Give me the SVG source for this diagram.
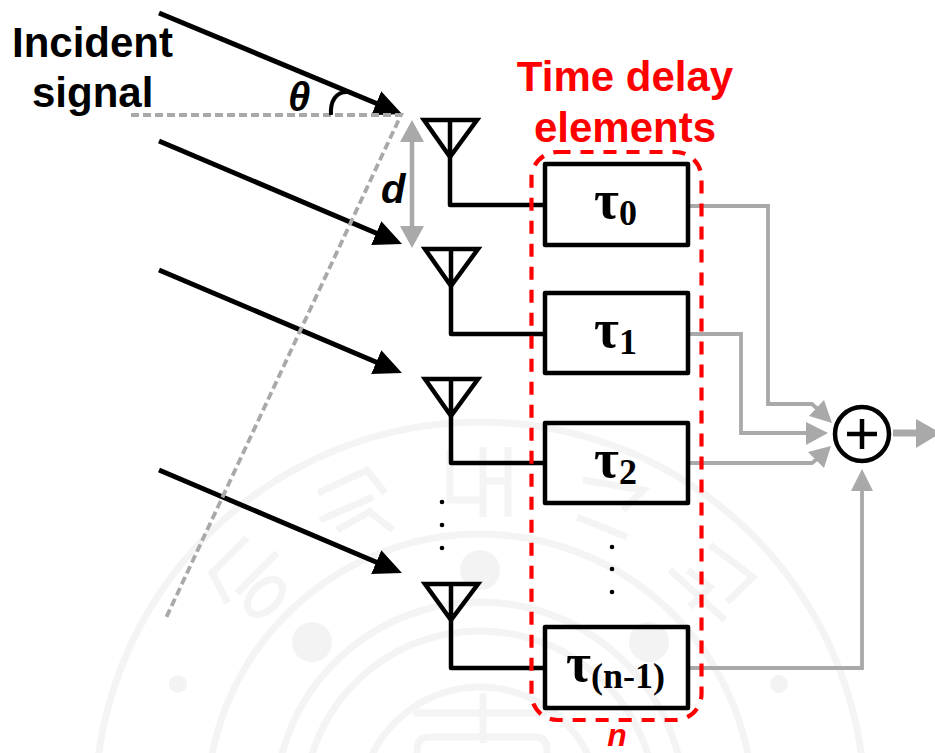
<svg xmlns="http://www.w3.org/2000/svg" width="935" height="753" viewBox="0 0 935 753">
<style>
.wm{fill:none;stroke:#f4f4f4;stroke-width:7}
.wmd{fill:#f3f3f3}
.box{fill:none;stroke:#000;stroke-width:4.500;stroke-linejoin:round}
.wire{fill:none;stroke:#000;stroke-width:4.500;stroke-linejoin:round}
.ant{fill:none;stroke:#000;stroke-width:4.500;stroke-linejoin:miter}
.ray{stroke:#000;stroke-width:5;fill:none}
.gw{fill:none;stroke:#a9a9a9;stroke-width:3.800}
.ga{fill:#a9a9a9}
.dash{fill:none;stroke:#a9a9a9;stroke-width:3.800;stroke-dasharray:8 4}
.lab{font-family:"Liberation Sans",Arial,sans-serif;font-weight:700;font-size:42px;fill:#000}
.red{fill:#f00;text-anchor:middle}
.tau{font-family:"Liberation Serif","Times New Roman",serif;font-weight:700;font-size:54px;fill:#000}
.sub{font-size:36px}
.dot{fill:#000}
</style>
<defs>
<marker id="bk" markerUnits="userSpaceOnUse" markerWidth="30" markerHeight="30" refX="22" refY="14" orient="auto"><path d="M0 1L28 14L0 27Z" fill="#000"/></marker>
</defs>
<g id="watermark">
<circle class="wm" cx="480" cy="807" r="385"/>
<circle class="wm" cx="480" cy="807" r="273"/>
<circle class="wm" cx="480" cy="807" r="205"/>
<circle class="wm" cx="480" cy="807" r="176"/>
<circle class="wm" cx="480" cy="807" r="120"/>
<circle class="wmd" cx="480" cy="570" r="20"/>
<circle class="wmd" cx="312" cy="642" r="20"/>
<circle class="wmd" cx="649" cy="642" r="20"/>
<circle class="wmd" cx="178" cy="684" r="9"/>
<circle class="wmd" cx="779" cy="684" r="9"/>
<path class="wm" d="M247 538L212 573L228 603M277 553L237 593M318 493L367 470L385 493M320 520L373 497M367 510L393 530M337 530L373 510M450 450V500H480M483 447V517M508 447V517M485 481H508M583 480L643 490L623 510M577 517L627 537M710 545L753 577L727 602M670 570L725 620M688 570L710 587L690 607M413 713H547M483 693V743M417 753V750Q417 737 430 737H535Q547 737 547 750V753"/>
<ellipse class="wm" cx="265" cy="597" rx="21" ry="13" transform="rotate(-45 265 597)"/>
</g>
<g id="connectors">
<path class="ray" d="M159 13L396.500 111.700" marker-end="url(#bk)"/>
<path class="ray" d="M159 141L396.500 241.700" marker-end="url(#bk)"/>
<path class="ray" d="M159 270L396.500 370.700" marker-end="url(#bk)"/>
<path class="ray" d="M159 470L396.500 570.700" marker-end="url(#bk)"/>
<path class="dash" d="M131 115H401L166 618"/>
<path d="M331 115C330 101 336 92 347 92" fill="none" stroke="#000" stroke-width="4"/>
<path class="gw" d="M412 135V232" style="stroke-width:4.500"/>
<path class="ga" d="M412 120L424 142H400Z"/>
<path class="ga" d="M412 248L424 226H400Z"/>
<path class="wire" d="M450 157V205H545"/>
<path class="wire" d="M451 286V334H545"/>
<path class="wire" d="M451 416V463H545"/>
<path class="wire" d="M451 620V668H545"/>
<path class="gw" d="M688 206H768V404H812L822 413"/>
<path class="ga" d="M832 423L809 416L824 400Z"/>
<path class="gw" d="M688 334H741V433H812"/>
<path class="ga" d="M828 433L806 422V445Z"/>
<path class="gw" d="M688 463H812L822 455"/>
<path class="ga" d="M831 446L824 468L808 452Z"/>
<path class="gw" d="M688 668H862V488"/>
<path class="ga" d="M862 469L873 491H851Z"/>
<path d="M893 433H920" stroke="#a9a9a9" stroke-width="7" fill="none"/>
<path class="ga" d="M941 433L916 419V448Z"/>
</g>
<g id="incident-label"><text class="lab" x="12" y="57">Incident</text><text class="lab" x="32" y="107">signal</text></g>
<g id="theta"><text class="lab" x="288" y="111" style="font-size:40px;font-style:italic">θ</text></g>
<g id="d-label"><text class="lab" x="381" y="203" style="font-size:40px;font-style:italic">d</text></g>
<g id="antenna-0"><path class="ant" d="M424 120H477L450 157ZM450 120V157"/></g>
<g id="antenna-1"><path class="ant" d="M425 249H478L451 286ZM451 249V286"/></g>
<g id="antenna-2"><path class="ant" d="M425 379H478L451 416ZM451 379V416"/></g>
<g id="antenna-3"><path class="ant" d="M425 584H478L451 620ZM451 584V620"/></g>
<g id="dots-left"><circle class="dot" cx="442" cy="502" r="2.300"/><circle class="dot" cx="442" cy="525" r="2.300"/><circle class="dot" cx="442" cy="548" r="2.300"/></g>
<g id="dots-mid"><circle class="dot" cx="612" cy="547" r="2.300"/><circle class="dot" cx="612" cy="569" r="2.300"/><circle class="dot" cx="612" cy="592" r="2.300"/></g>
<g id="tau-0"><rect class="box" x="545" y="164" width="143" height="81"/><text class="tau" x="594" y="218">τ<tspan class="sub" dy="7">0</tspan></text></g>
<g id="tau-1"><rect class="box" x="545" y="293" width="143" height="80"/><text class="tau" x="594" y="347">τ<tspan class="sub" dy="7">1</tspan></text></g>
<g id="tau-2"><rect class="box" x="545" y="423" width="143" height="80"/><text class="tau" x="594" y="477">τ<tspan class="sub" dy="7">2</tspan></text></g>
<g id="tau-n"><rect class="box" x="545" y="627" width="143" height="81"/><text class="tau" x="566" y="681">τ<tspan class="sub" dy="7">(n-1)</tspan></text></g>
<g id="delay-group"><rect x="531.500" y="152" width="170" height="568" rx="26" fill="none" stroke="#f00" stroke-width="4.200" stroke-dasharray="13 10"/>
<text class="lab red" x="625" y="91">Time delay</text><text class="lab red" x="625" y="142">elements</text><text class="lab red" x="617" y="746" style="font-size:32px;font-style:italic">n</text></g>
<g id="summer"><circle cx="862" cy="434" r="27" fill="#fff" stroke="#000" stroke-width="4.500"/><path d="M847 434H877M862 419V449" stroke="#000" stroke-width="4.500" fill="none"/></g>
</svg>
